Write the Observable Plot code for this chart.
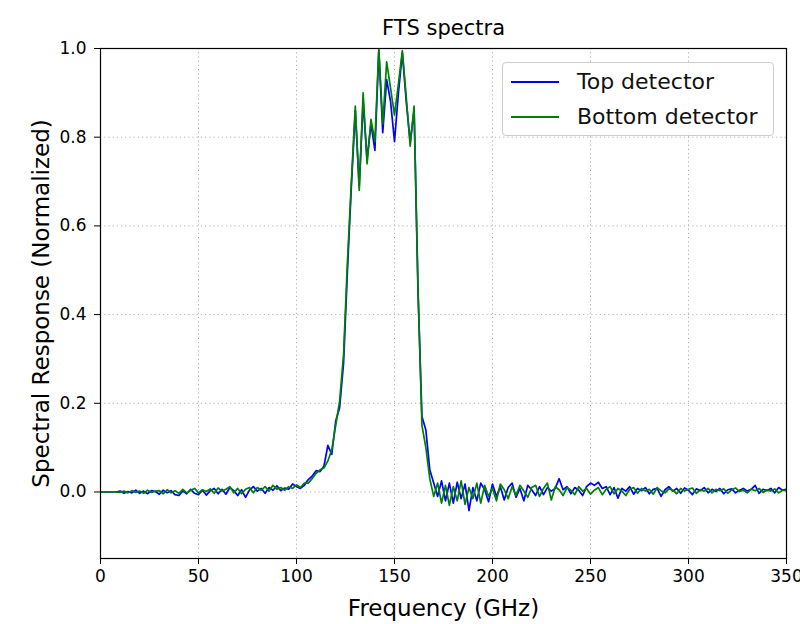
<!DOCTYPE html>
<html>
<head>
<meta charset="utf-8">
<script src="https://cdn.jsdelivr.net/npm/d3@7"></script>
<script src="https://cdn.jsdelivr.net/npm/@observablehq/plot@0.6"></script>
<style>
  html, body { margin: 0; padding: 0; background: white; }
  #wrap { position: relative; width: 800px; height: 624px; font-family: "DejaVu Sans", sans-serif; }
  #legend { position: absolute; left: 502px; top: 62px; width: 272px; height: 74px;
    border: 1px solid #cccccc; border-radius: 4px; background: rgba(255,255,255,0.85); box-sizing: border-box; }
  .lrow { position: absolute; left: 0; height: 30px; width: 100%; }
  .lsw { position: absolute; left: 8px; width: 48px; top: 14px; height: 0; border-top-width: 2px; border-top-style: solid; }
  .ltx { position: absolute; left: 74px; top: 0; font-size: 22px; line-height: 30px; color: #111; white-space: nowrap; }
</style>
</head>
<body>
<div id="wrap"><div id="chart"></div><div id="legend"></div></div>
<script>
const title = "FTS spectra";
const xLabel = "Frequency (GHz)";
const yLabel = "Spectral Response (Normalized)";
const seriesNames = ["Top detector", "Bottom detector"];
const seriesColors = ["#0000ff", "#008000"];
const xTicks = [0, 50, 100, 150, 200, 250, 300, 350];
const yTicks = [0.0, 0.2, 0.4, 0.6, 0.8, 1.0];

const freq = [
  0,2,4,6,8,10,12,14,16,18,20,22,24,26,28,30,32,34,36,38,
  40,42,44,46,48,50,52,54,56,58,60,62,64,66,68,70,72,74,76,78,
  80,82,84,86,88,90,92,94,96,98,100,102,104,106,108,110,112,114,116,118,
  120,122,124,126,128,130,132,134,136,138,140,142,144,146,148,150,152,154,156,158,
  160,162,164,166,168,170,172,174,176,178,180,182,184,186,188,190,192,194,196,198,
  200,202,204,206,208,210,212,214,216,218,220,222,224,226,228,230,232,234,236,238,
  240,242,244,246,248,250,252,254,256,258,260,262,264,266,268,270,272,274,276,278,
  280,282,284,286,288,290,292,294,296,298,300,302,304,306,308,310,312,314,316,318,
  320,322,324,326,328,330,332,334,336,338,340,342,344,346,348,350
];

const topDetector = [
  0,0,0,0,0,0.002,-0.003,0.001,-0.002,0.004,
  -0.003,0.002,-0.004,0.003,0.001,-0.005,0.004,-0.002,0.003,-0.006,
  -0.008,0.002,-0.004,0.006,-0.003,-0.006,0.004,-0.007,0.003,0.008,
  -0.004,0.006,-0.005,0.010,0.003,-0.008,0.005,-0.012,0.004,0.012,
  0.002,0.008,-0.003,0.010,0.004,0.014,0.003,0.009,0.006,0.018,
  0.012,0.008,0.015,0.028,0.036,0.048,0.046,0.058,0.105,0.085,
  0.16,0.19,0.29,0.5,0.69,0.86,0.69,0.88,0.75,0.83,
  0.77,0.995,0.81,0.93,0.88,0.79,0.9,0.99,0.88,0.79,
  0.86,0.45,0.17,0.14,0.05,0.02,-0.01,0.025,-0.02,0.02,
  -0.025,0.022,-0.015,0.018,-0.042,0.01,-0.02,0.02,0.005,-0.022,
  0.018,-0.01,0.012,-0.018,0.01,0.02,-0.012,0.008,-0.02,0.015,
  0.005,-0.008,0.012,-0.006,0.01,0.002,0.008,0.03,0.005,0.012,
  -0.004,0.01,0.004,-0.008,0.012,0.02,0.015,0.022,0.008,0.012,
  -0.006,0.01,-0.014,0.008,0.002,0.012,-0.005,0.008,0.003,0.01,
  -0.004,0.006,0.008,-0.01,0.005,0.012,0.002,0.008,-0.003,0.009,
  0.004,-0.006,0.007,0.003,0.01,-0.002,0.006,0.001,0.008,-0.004,
  0.005,0.007,-0.002,0.004,0.008,0.002,0.006,0.015,-0.003,0.006,
  0.003,0.008,-0.002,0.01,0.004,0.006
];

const bottomDetector = [
  0,0,0,0,0,-0.001,0.002,-0.002,0.003,-0.001,
  0.002,-0.003,0.004,-0.001,0.002,0.003,-0.004,0.005,-0.002,0.003,
  -0.003,0.006,-0.002,0.004,0.008,-0.002,0.005,0.001,0.007,-0.003,
  0.009,0.002,0.006,0.012,-0.002,0.008,-0.004,0.006,0.01,-0.002,
  0.01,0.004,0.012,0.002,0.015,0.006,0.01,0.004,0.012,0.008,
  0.016,0.01,0.02,0.02,0.03,0.042,0.05,0.054,0.07,0.095,
  0.15,0.205,0.31,0.52,0.7,0.87,0.68,0.9,0.74,0.84,
  0.79,1.0,0.83,0.97,0.91,0.85,0.92,0.995,0.89,0.78,
  0.87,0.46,0.15,0.1,0.03,-0.01,0.02,-0.025,0.015,-0.03,
  0.012,-0.02,0.025,-0.028,0.01,-0.015,0.02,-0.025,0.015,-0.01,
  0.008,-0.02,0.018,0.005,-0.015,0.012,-0.008,0.015,0.002,-0.012,
  0.01,0.015,-0.01,0.008,0.02,-0.018,0.012,0.005,-0.008,0.01,
  0.004,-0.006,0.012,0.002,0.008,-0.005,0.004,0.01,-0.006,0.006,
  0.012,-0.004,0.008,0.002,-0.008,0.006,0.01,-0.003,0.008,0.002,
  0.006,-0.005,0.01,0.003,-0.002,0.007,0.004,-0.004,0.008,0.002,
  0.006,0.009,-0.003,0.005,0.002,0.008,-0.002,0.006,0.003,0.007,
  -0.003,0.005,0.009,0.001,0.004,-0.002,0.006,0.003,0.008,-0.001,
  0.005,0.002,0.007,-0.002,0.004,0.003
];

const series = [topDetector, bottomDetector].map((vals, k) =>
  freq.map((f, i) => ({f, v: vals[i], s: seriesNames[k]})));

const grid = {stroke: "#b0b0b0", strokeOpacity: 1, strokeWidth: 1, strokeDasharray: "1.2,3"};

const chart = Plot.plot({
  width: 800, height: 624,
  marginLeft: 100, marginRight: 14, marginTop: 48, marginBottom: 66,
  style: {fontFamily: "DejaVu Sans, sans-serif", background: "white", color: "black", overflow: "visible"},
  x: {domain: [0, 350]},
  y: {domain: [-0.15, 1.0]},
  marks: [
    Plot.gridX(xTicks.slice(1, -1), grid),
    Plot.gridY(yTicks.slice(0, -1), grid),
    ...series.map((d, k) => Plot.lineY(d, {x: "f", y: "v", stroke: seriesColors[k], strokeWidth: 1.7, clip: true})),
    Plot.frame({stroke: "black", strokeWidth: 1.2}),
    Plot.axisX(xTicks, {tickSize: 6, tickPadding: 5, fontSize: 17, label: null, tickFormat: d => String(d)}),
    Plot.axisY(yTicks, {tickSize: 6, tickPadding: 8, fontSize: 17, label: null, tickFormat: d3.format(".1f")}),
    Plot.text([title], {frameAnchor: "top", lineAnchor: "middle", dy: -20, fontSize: 21}),
    Plot.text([xLabel], {frameAnchor: "bottom", lineAnchor: "middle", dy: 50, fontSize: 23}),
    Plot.text([yLabel], {frameAnchor: "left", textAnchor: "middle", lineAnchor: "middle", dx: -59, rotate: -90, fontSize: 23})
  ]
});
document.getElementById("chart").appendChild(chart);

const legend = document.getElementById("legend");
seriesNames.forEach((name, k) => {
  const row = document.createElement("div");
  row.className = "lrow";
  row.style.top = (4 + k * 35) + "px";
  const sw = document.createElement("div");
  sw.className = "lsw";
  sw.style.borderTopColor = seriesColors[k];
  const tx = document.createElement("div");
  tx.className = "ltx";
  tx.textContent = name;
  row.appendChild(sw); row.appendChild(tx);
  legend.appendChild(row);
});
</script>
</body>
</html>
